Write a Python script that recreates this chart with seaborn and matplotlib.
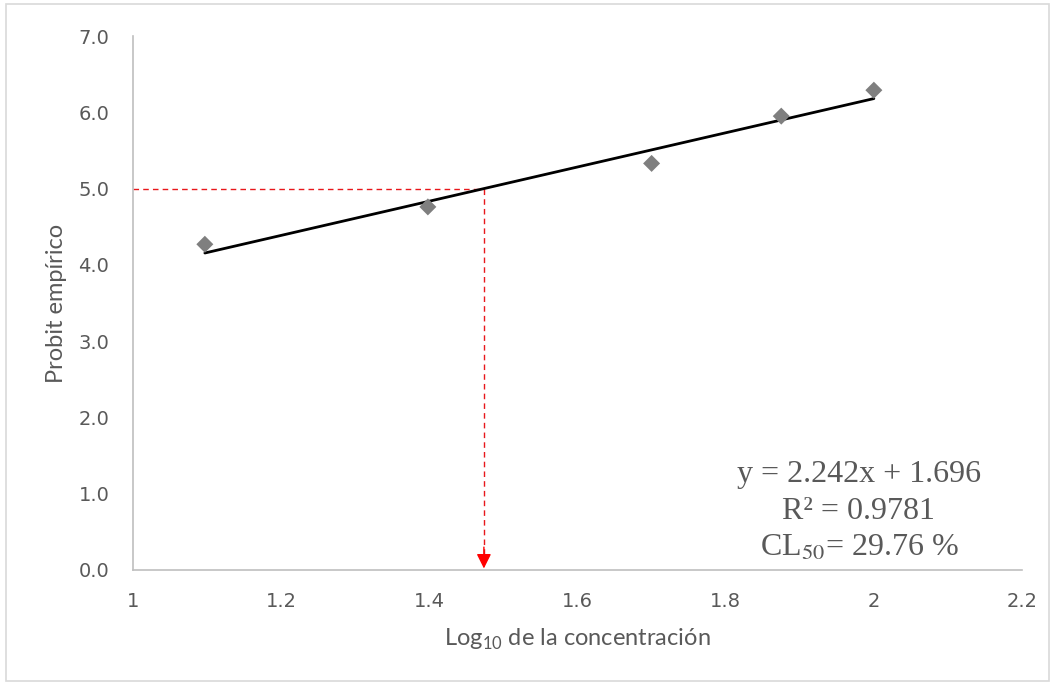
import numpy as np
import pandas as pd
import matplotlib
matplotlib.use("Agg")
import matplotlib.pyplot as plt
import seaborn as sns

# data
log_conc = [1.097, 1.398, 1.700, 1.875, 2.000]
probit = [4.27, 4.76, 5.33, 5.95, 6.29]
slope = 2.242
intercept = 1.696
r2 = 0.9781
cl50 = 29.76
x_ticks = [1, 1.2, 1.4, 1.6, 1.8, 2, 2.2]
x_tick_labels = ["1", "1.2", "1.4", "1.6", "1.8", "2", "2.2"]
y_ticks = [0, 1, 2, 3, 4, 5, 6, 7]

sns.set_style("white")
plt.rcParams["font.family"] = ["Lato", "DejaVu Sans"]
plt.rcParams["mathtext.fontset"] = "custom"
plt.rcParams["mathtext.rm"] = "Lato"

grey_txt = "#595959"
axis_col = "#BFBFBF"

fig = plt.figure(figsize=(10.53, 6.85), dpi=100)
ax = fig.add_axes([0.1263, 0.1679, 0.8443, 0.7795])

df = pd.DataFrame({"x": log_conc, "y": probit})

# trend line across the range of the data
x_fit = np.array([min(log_conc), max(log_conc)])
fit = pd.DataFrame({"x": x_fit, "y": slope * x_fit + intercept})
sns.lineplot(data=fit, x="x", y="y", ax=ax, color="black", lw=2.0, zorder=3)

sns.scatterplot(data=df, x="x", y="y", ax=ax, marker="D", s=75,
                color="#7F7F7F", edgecolor="none", zorder=4)

# CL50 reading lines
x50 = np.log10(cl50)
ax.plot([1, x50], [5, 5], color="#E8171B", lw=1, ls=(0, (4, 3)), zorder=2)
ax.plot([x50, x50], [5, 0.15], color="#E8171B", lw=1, ls=(0, (4, 3)), zorder=2)
ax.annotate("", xy=(x50, 0.02), xytext=(x50, 0.3),
            arrowprops=dict(arrowstyle="-|>", color="#FF0000", lw=1,
                            mutation_scale=22, shrinkA=0, shrinkB=0))

ax.set_xlim(1, 2.2)
ax.set_ylim(0, 7)
tick_font = dict(family="DejaVu Sans", fontsize=14, color=grey_txt)
ax.set_xticks(x_ticks)
ax.set_xticklabels(x_tick_labels, **tick_font)
ax.set_yticks(y_ticks)
ax.set_yticklabels([f"{v:.1f}" for v in y_ticks], **tick_font)

for s in ["top", "right"]:
    ax.spines[s].set_visible(False)
for s in ["left", "bottom"]:
    ax.spines[s].set_color(axis_col)
    ax.spines[s].set_linewidth(1.2)
ax.tick_params(axis="both", colors=axis_col, labelcolor=grey_txt,
               length=7, width=1.2, direction="out")
ax.tick_params(axis="x", pad=9)
ax.tick_params(axis="y", pad=10)

ax.set_xlabel("Log$_{10}$ de la concentración", fontsize=17, color=grey_txt, labelpad=11)
ax.set_ylabel("Probit empírico", fontsize=17, color=grey_txt, labelpad=8)

txt = dict(family=["Liberation Serif", "DejaVu Serif"], fontsize=23,
           color=grey_txt, ha="center", va="center")
fig.text(0.8157, 0.3066, f"y = {slope}x + {intercept}", **txt)
fig.text(0.8157, 0.2526, f"R² = {r2}", **txt)
fig.text(0.8157, 0.2000, "CL$_{50}$= " + f"{cl50} %",
         math_fontfamily="stix", **txt)

# chart area border
fig.patches.append(plt.Rectangle((0.006, 0.006), 0.990, 0.988, transform=fig.transFigure,
                                 fill=False, edgecolor="#D9D9D9", lw=1.2))

fig.savefig("out.png", dpi=100)
